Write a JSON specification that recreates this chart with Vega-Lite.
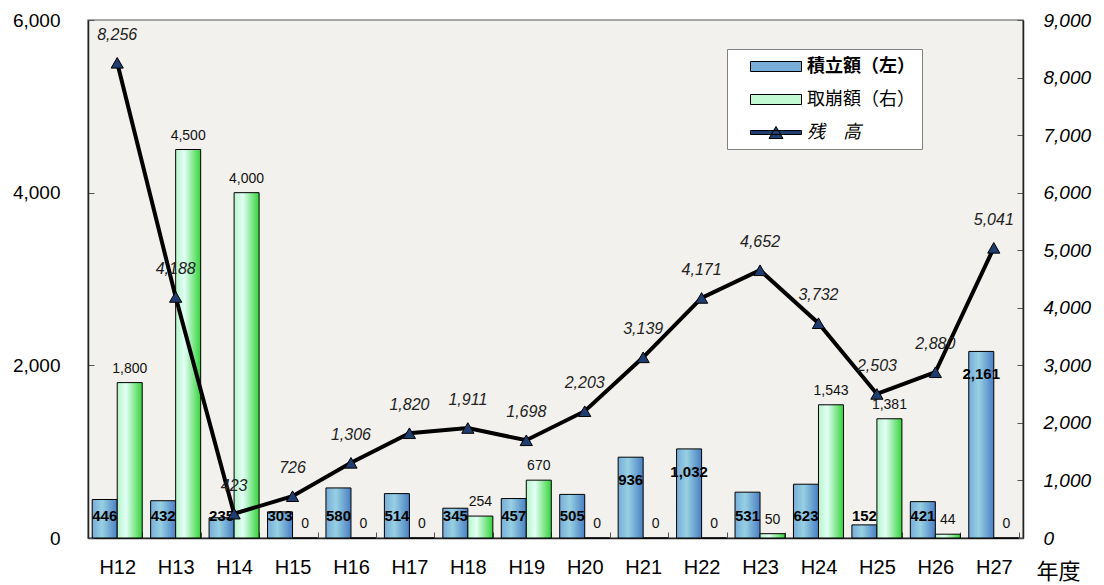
{
  "$schema": "https://vega.github.io/schema/vega-lite/v6.json",
  "width": 935,
  "height": 518,
  "autosize": {"type": "none"},
  "padding": {"left": 88, "top": 20, "right": 81, "bottom": 47},
  "background": "white",
  "config": {
    "view": {"fill": "#f2f1ed", "stroke": "#8c8c8c", "strokeWidth": 1.5},
    "font": "Liberation Sans"
  },
  "datasets": {
    "bars": [
      {"year": "H12", "series": "積立額（左）", "value": 446},
      {"year": "H13", "series": "積立額（左）", "value": 432},
      {"year": "H14", "series": "積立額（左）", "value": 235},
      {"year": "H15", "series": "積立額（左）", "value": 303},
      {"year": "H16", "series": "積立額（左）", "value": 580},
      {"year": "H17", "series": "積立額（左）", "value": 514},
      {"year": "H18", "series": "積立額（左）", "value": 345},
      {"year": "H19", "series": "積立額（左）", "value": 457},
      {"year": "H20", "series": "積立額（左）", "value": 505},
      {"year": "H21", "series": "積立額（左）", "value": 936},
      {"year": "H22", "series": "積立額（左）", "value": 1032},
      {"year": "H23", "series": "積立額（左）", "value": 531},
      {"year": "H24", "series": "積立額（左）", "value": 623},
      {"year": "H25", "series": "積立額（左）", "value": 152},
      {"year": "H26", "series": "積立額（左）", "value": 421},
      {"year": "H27", "series": "積立額（左）", "value": 2161},
      {"year": "H12", "series": "取崩額（右）", "value": 1800},
      {"year": "H13", "series": "取崩額（右）", "value": 4500},
      {"year": "H14", "series": "取崩額（右）", "value": 4000},
      {"year": "H15", "series": "取崩額（右）", "value": 0},
      {"year": "H16", "series": "取崩額（右）", "value": 0},
      {"year": "H17", "series": "取崩額（右）", "value": 0},
      {"year": "H18", "series": "取崩額（右）", "value": 254},
      {"year": "H19", "series": "取崩額（右）", "value": 670},
      {"year": "H20", "series": "取崩額（右）", "value": 0},
      {"year": "H21", "series": "取崩額（右）", "value": 0},
      {"year": "H22", "series": "取崩額（右）", "value": 0},
      {"year": "H23", "series": "取崩額（右）", "value": 50},
      {"year": "H24", "series": "取崩額（右）", "value": 1543},
      {"year": "H25", "series": "取崩額（右）", "value": 1381},
      {"year": "H26", "series": "取崩額（右）", "value": 44},
      {"year": "H27", "series": "取崩額（右）", "value": 0}
    ],
    "balance": [
      {"year": "H12", "value": 8256},
      {"year": "H13", "value": 4188},
      {"year": "H14", "value": 423},
      {"year": "H15", "value": 726},
      {"year": "H16", "value": 1306},
      {"year": "H17", "value": 1820},
      {"year": "H18", "value": 1911},
      {"year": "H19", "value": 1698},
      {"year": "H20", "value": 2203},
      {"year": "H21", "value": 3139},
      {"year": "H22", "value": 4171},
      {"year": "H23", "value": 4652},
      {"year": "H24", "value": 3732},
      {"year": "H25", "value": 2503},
      {"year": "H26", "value": 2880},
      {"year": "H27", "value": 5041}
    ]
  },
  "layer": [
    {
      "data": {"name": "bars"},
      "layer": [
        {
          "transform": [{"filter": "datum.series == '積立額（左）'"}],
          "mark": {
            "type": "bar",
            "fill": {"gradient": "linear", "x1": 0, "x2": 1, "y1": 0, "y2": 0,
              "stops": [{"offset": 0, "color": "#78acd9"}, {"offset": 0.4, "color": "#97d0e2"}, {"offset": 1, "color": "#4a7fc4"}]},
            "stroke": "black",
            "strokeWidth": 1
          },
          "encoding": {
            "x": {
              "field": "year", "type": "nominal",
              "scale": {"paddingInner": 0.144, "paddingOuter": 0.072},
              "axis": {
                "title": "年度", "titleFont": "Noto Sans CJK JP", "titleFontSize": 22, "titleFontWeight": "normal",
                "titleX": 948, "titleY": 33, "titleAlign": "left", "titleBaseline": "middle", "titleColor": "black",
                "labelAngle": 0, "labelFontSize": 20, "labelColor": "black", "labelPadding": 25,
                "tickBand": "extent", "tickSize": -6, "tickColor": "#555", "domainColor": "#222", "domainWidth": 1.5
              }
            },
            "xOffset": {"field": "series", "type": "nominal", "scale": {"domain": ["積立額（左）", "取崩額（右）"], "paddingInner": 0, "paddingOuter": 0}},
            "y": {
              "field": "value", "type": "quantitative",
              "scale": {"domain": [0, 6000]},
              "axis": {
                "orient": "left", "title": null, "values": [0, 2000, 4000, 6000], "format": ",",
                "labelExpr": "format(datum.value, ',')",
                "grid": false, "labelFontSize": 19, "labelColor": "black", "tickSize": -6, "labelPadding": 34,
                "tickColor": "#555", "domainColor": "#222", "domainWidth": 1.5
              }
            }
          }
        },
        {
          "transform": [{"filter": "datum.series == '取崩額（右）'"}],
          "mark": {
            "type": "bar",
            "fill": {"gradient": "linear", "x1": 0, "x2": 1, "y1": 0, "y2": 0,
              "stops": [{"offset": 0, "color": "#b5f5c8"}, {"offset": 0.35, "color": "#e2fff6"}, {"offset": 1, "color": "#34d43a"}]},
            "stroke": "black",
            "strokeWidth": 1
          },
          "encoding": {
            "x": {"field": "year", "type": "nominal"},
            "xOffset": {"field": "series", "type": "nominal"},
            "y": {"field": "value", "type": "quantitative"}
          }
        },
        {
          "transform": [{"filter": "datum.series == '積立額（左）' && datum.value < 900"}],
          "mark": {"type": "text", "fontSize": 15, "fontWeight": "bold", "baseline": "middle", "dy": -22, "color": "black"},
          "encoding": {
            "x": {"field": "year", "type": "nominal"},
            "xOffset": {"field": "series", "type": "nominal"},
            "y": {"datum": 0, "type": "quantitative"},
            "text": {"field": "value", "type": "quantitative", "format": ","}
          }
        },
        {
          "transform": [{"filter": "datum.series == '積立額（左）' && datum.value >= 900"}],
          "mark": {"type": "text", "fontSize": 15, "fontWeight": "bold", "baseline": "middle", "dy": 23, "color": "black"},
          "encoding": {
            "x": {"field": "year", "type": "nominal"},
            "xOffset": {"field": "series", "type": "nominal"},
            "y": {"field": "value", "type": "quantitative"},
            "text": {"field": "value", "type": "quantitative", "format": ","}
          }
        },
        {
          "transform": [{"filter": "datum.series == '取崩額（右）'"}],
          "mark": {"type": "text", "fontSize": 14, "baseline": "middle", "dy": -14, "color": "#111"},
          "encoding": {
            "x": {"field": "year", "type": "nominal"},
            "xOffset": {"field": "series", "type": "nominal"},
            "y": {"field": "value", "type": "quantitative"},
            "text": {"field": "value", "type": "quantitative", "format": ","}
          }
        }
      ]
    },
    {
      "data": {"name": "balance"},
      "layer": [
        {
          "mark": {"type": "line", "color": "black", "strokeWidth": 4},
          "encoding": {
            "x": {"field": "year", "type": "nominal"},
            "y": {
              "field": "value", "type": "quantitative",
              "scale": {"domain": [0, 9000]},
              "axis": {
                "orient": "right", "title": null, "values": [0, 1000, 2000, 3000, 4000, 5000, 6000, 7000, 8000, 9000],
                "format": ",", "labelExpr": "format(datum.value, ',')",
                "grid": false, "labelFontSize": 19, "labelFontStyle": "italic", "labelColor": "black",
                "tickSize": -6, "labelPadding": 26, "tickColor": "#555", "domainColor": "#222", "domainWidth": 1.5
              }
            }
          }
        },
        {
          "mark": {"type": "point", "shape": "triangle-up", "filled": true, "size": 150, "stroke": "black", "strokeWidth": 1, "opacity": 1},
          "encoding": {
            "x": {"field": "year", "type": "nominal"},
            "y": {"field": "value", "type": "quantitative"},
            "color": {
              "datum": "残　高", "type": "nominal",
              "scale": {"domain": ["積立額（左）", "取崩額（右）", "残　高"], "range": ["#78acd9", "#c2f8d2", "#1f3d6e"]},
              "legend": {
                "orient": "none", "legendX": 639, "legendY": 29, "title": null, "direction": "vertical",
                "fillColor": "white", "strokeColor": "#808080", "padding": 7,
                "symbolSize": 400,
                "symbolType": {"expr": "datum.label == '残　高' ? 'M0.6,-0.2H5.7V0.2H0.6Z M2.45,0.6L3.15,-0.6L3.85,0.6Z' : 'M0.6,-0.5H5.7V0.5H0.6Z'"},
                "symbolStrokeColor": "black", "symbolStrokeWidth": 1, "symbolOpacity": 1,
                "labelFont": "Noto Sans CJK JP", "labelFontSize": 18, "labelColor": "black",
                "labelFontWeight": {"expr": "datum.label == '積立額（左）' ? 'bold' : 'normal'"},
                "labelFontStyle": {"expr": "datum.label == '残　高' ? 'italic' : 'normal'"},
                "labelOffset": 52, "rowPadding": 13
              }
            }
          }
        },
        {
          "mark": {"type": "text", "fontSize": 16, "fontStyle": "italic", "baseline": "middle", "dy": -28, "color": "#222"},
          "encoding": {
            "x": {"field": "year", "type": "nominal"},
            "y": {"field": "value", "type": "quantitative"},
            "text": {"field": "value", "type": "quantitative", "format": ","}
          }
        }
      ]
    }
  ],
  "resolve": {"scale": {"y": "independent"}}
}
